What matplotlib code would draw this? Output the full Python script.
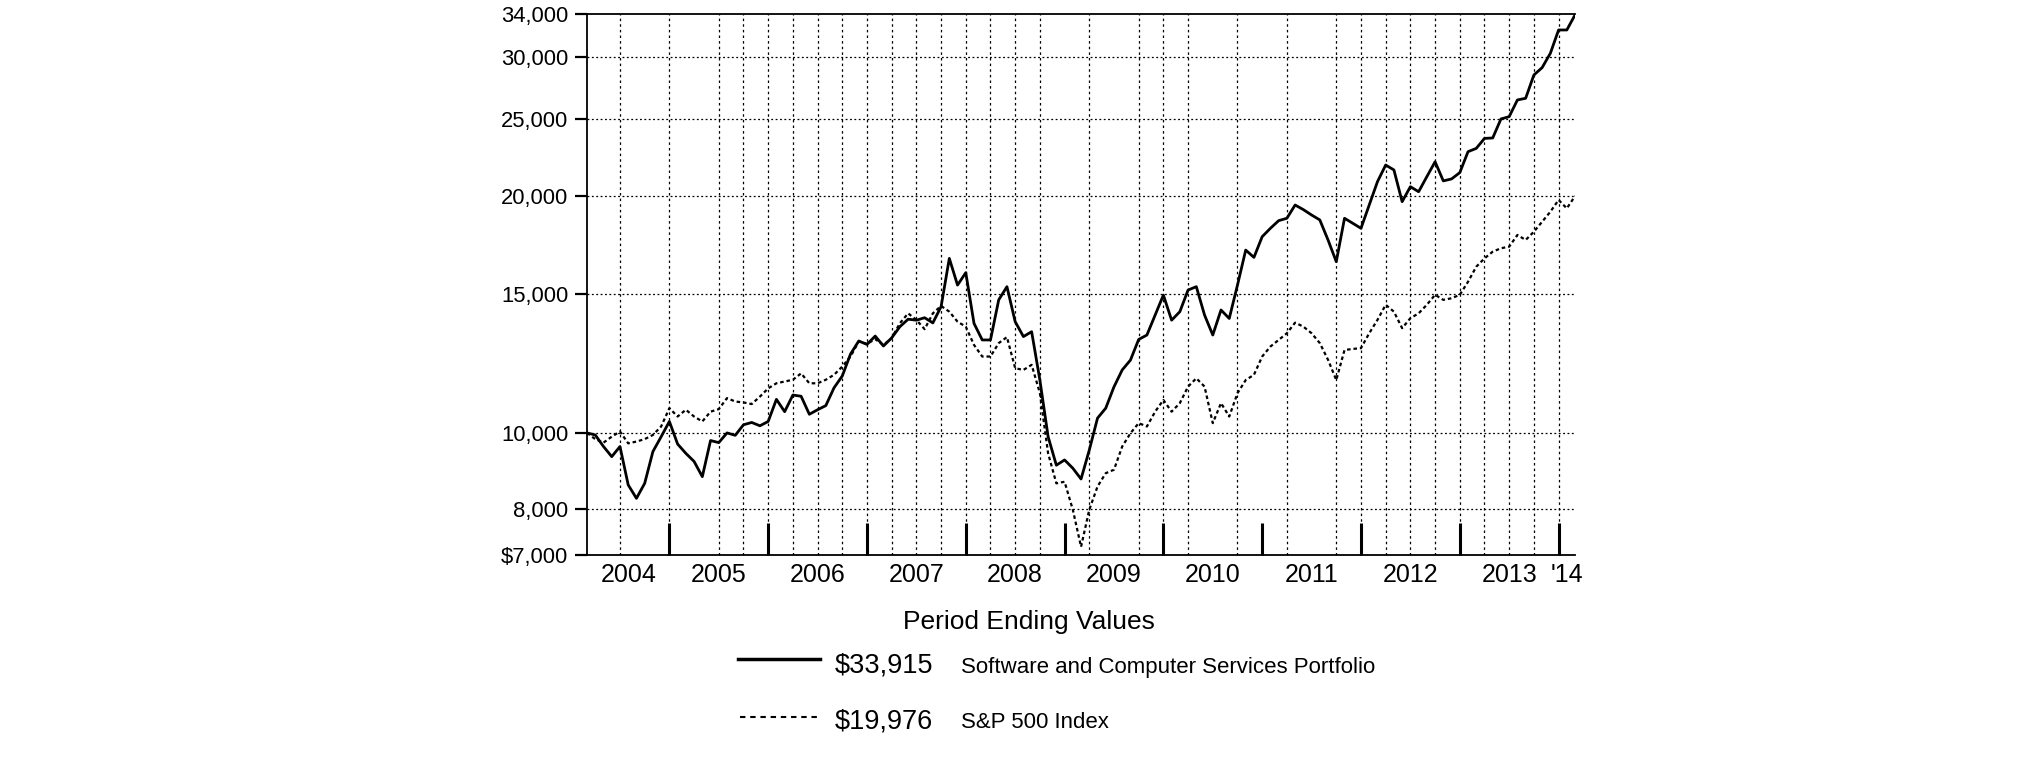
import numpy as np
import matplotlib
matplotlib.use("Agg")
import matplotlib.pyplot as plt
from matplotlib.lines import Line2D
from matplotlib.ticker import FixedLocator, NullLocator, FuncFormatter

plt.rcParams['font.family'] = ['Liberation Sans', 'DejaVu Sans']

# month-end values, Feb 2004 .. Feb 2014 (index 0 = Feb 2004)
software = [10000, 9940, 9610, 9330, 9610, 8590, 8260, 8630, 9470, 9890,
            10340, 9680, 9420, 9200, 8800, 9780, 9720, 10000, 9930, 10240,
            10310, 10210, 10340, 11030, 10640, 11170, 11130, 10560, 10700, 10830,
            11410, 11810, 12590, 13080, 12950, 13270, 12890, 13200, 13640, 13940,
            13900, 14000, 13790, 14460, 16650, 15400, 15970, 13770, 13120, 13120,
            14750, 15330, 13840, 13250, 13440, 11670, 9890, 9100, 9240, 9020,
            8740, 9510, 10440, 10750, 11440, 12020, 12370, 13140, 13310, 14110,
            14960, 13900, 14250, 15180, 15330, 14110, 13310, 14320, 13970, 15400,
            17060, 16700, 17740, 18180, 18590, 18720, 19460, 19200, 18900, 18630,
            17570, 16490, 18720, 18450, 18180, 19460, 20830, 21870, 21560, 19650,
            20530, 20230, 21140, 22080, 20880, 21000, 21390, 22740, 22960, 23640,
            23670, 25020, 25190, 26450, 26580, 28450, 29070, 30310, 32450, 32450,
            33915]
sp500 = [10000, 9820, 9720, 9890, 10040, 9700, 9750, 9820, 9940, 10190,
         10750, 10490, 10700, 10490, 10340, 10640, 10720, 11070, 10960, 10930,
         10880, 11120, 11390, 11560, 11620, 11680, 11900, 11560, 11560, 11680,
         11850, 12140, 12500, 13060, 12970, 13150, 12930, 13190, 13780, 14180,
         13910, 13540, 14180, 14490, 14250, 13840, 13640, 12930, 12500, 12500,
         13000, 13230, 12080, 12020, 12200, 11230, 9420, 8630, 8670, 7990,
         7170, 7990, 8550, 8890, 8980, 9610, 9990, 10290, 10190, 10640,
         11010, 10640, 10910, 11450, 11730, 11450, 10290, 10910, 10490, 11230,
         11670, 11850, 12500, 12870, 13120, 13380, 13800, 13640, 13380, 13000,
         12380, 11670, 12740, 12780, 12810, 13380, 13910, 14540, 14250, 13580,
         13980, 14180, 14540, 14970, 14750, 14820, 14970, 15550, 16250, 16650,
         16980, 17150, 17230, 17830, 17570, 18000, 18530, 19080, 19750, 19270,
         19976]

year_labels = ['2004', '2005', '2006', '2007', '2008', '2009', '2010', '2011', '2012', '2013', "'14"]
year_label_pos = [5, 16, 28, 40, 52, 64, 76, 88, 100, 112, 119]
year_ends = [10, 22, 34, 46, 58, 70, 82, 94, 106, 118]
grid_months = [4, 10, 16, 19, 22, 25, 28, 31, 34, 37, 40, 43, 46, 49, 52, 55,
               61, 67, 70, 73, 79, 85, 91, 94, 97, 100, 103, 106, 109, 112, 115, 118]
y_ticks = [7000, 8000, 10000, 15000, 20000, 25000, 30000, 34000]

names = ['Software and Computer Services Portfolio', 'S&P 500 Index']

months = np.arange(len(software))

fig = plt.figure(figsize=(20.25, 7.61), dpi=100)
ax = fig.add_axes([0.2899, 0.2707, 0.4879, 0.7109])

ax.set_yscale('log')
ax.set_ylim(7000, 34000)
ax.set_xlim(0, 120)

for m in grid_months:
    ax.axvline(m, color='black', lw=0.9, linestyle=(0, (2, 2.5)), zorder=1)
for v in y_ticks[1:-1]:
    ax.axhline(v, color='black', lw=0.9, linestyle=(0, (1.5, 2)), zorder=1)

ax.plot(months, software, color='black', lw=2.0, zorder=3)
ax.plot(months, sp500, color='black', lw=1.6, linestyle=(0, (1.6, 1.3)), zorder=2)

ax.yaxis.set_major_locator(FixedLocator(y_ticks))
ax.yaxis.set_minor_locator(NullLocator())
ax.yaxis.set_major_formatter(FuncFormatter(lambda v, p: ('$%s' if v == 7000 else '%s') % format(int(round(v)), ',')))
ax.tick_params(axis='y', direction='out', length=8.6, width=1.6, pad=5, labelsize=15.8)

ax.xaxis.set_major_locator(FixedLocator(year_ends))
ax.xaxis.set_minor_locator(FixedLocator(year_label_pos))
ax.set_xticklabels([], minor=False)
ax.set_xticklabels(year_labels, minor=True)
ax.tick_params(axis='x', which='major', direction='in', length=23, width=2.2, labelbottom=False)
ax.tick_params(axis='x', which='minor', length=0, pad=6, labelsize=18)

ax.spines['right'].set_visible(False)
for s in ['left', 'top', 'bottom']:
    ax.spines[s].set_linewidth(1.3)

# legend block below the chart
fig.text(0.5081, 0.1730, 'Period Ending Values', ha='center', va='baseline', fontsize=19)
fig.add_artist(Line2D([0.3644, 0.4049], [0.1340, 0.1340], color='black', lw=2.5))
fig.add_artist(Line2D([0.3654, 0.4040], [0.0582, 0.0582], color='black', lw=1.5, linestyle=(0, (2.6, 2.3))))
fig.text(0.4123, 0.1160, '$' + format(software[-1], ','), ha='left', va='baseline', fontsize=19.5)
fig.text(0.4744, 0.1160, names[0], ha='left', va='baseline', fontsize=16)
fig.text(0.4123, 0.0430, '$' + format(sp500[-1], ','), ha='left', va='baseline', fontsize=19.5)
fig.text(0.4744, 0.0430, names[1], ha='left', va='baseline', fontsize=16)

fig.savefig('out.png', dpi=100)
